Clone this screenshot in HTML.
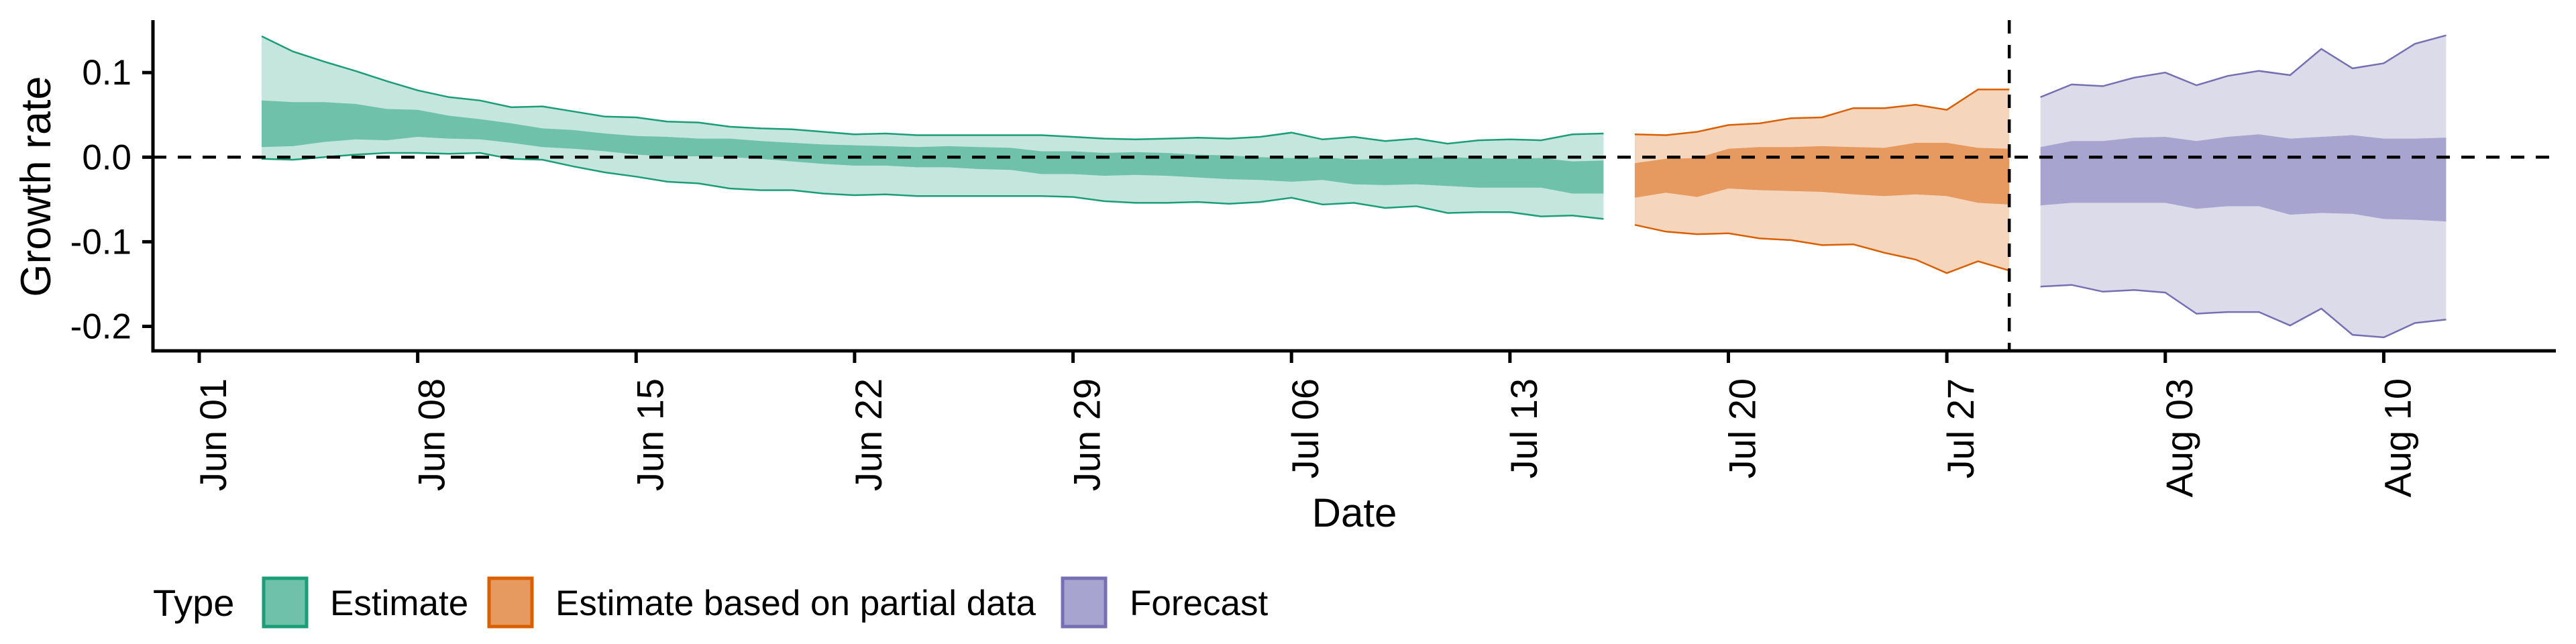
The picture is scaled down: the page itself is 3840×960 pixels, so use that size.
<!DOCTYPE html>
<html><head><meta charset="utf-8"><style>
html,body{margin:0;padding:0;background:#fff;}
svg{display:block;font-family:"Liberation Sans",sans-serif;}
</style></head><body>
<svg id="chart" width="3840" height="960" viewBox="0 0 3840 960" xmlns="http://www.w3.org/2000/svg">
<g id="bands"></g>
<g id="axes"></g>
<text x="0" y="0" font-size="63" text-anchor="middle" transform="translate(75,278) rotate(-90)">Growth rate</text>
<text x="2019" y="785" font-size="60" text-anchor="middle">Date</text>
<g>
<text x="228" y="918" font-size="56">Type</text>
<rect x="393" y="862" width="64" height="72" fill="#6fc2a9" stroke="#1b9e77" stroke-width="5"/>
<text x="492" y="917" font-size="53">Estimate</text>
<rect x="729" y="862" width="64" height="72" fill="#e69a5f" stroke="#d95f02" stroke-width="5"/>
<text x="828" y="917" font-size="53">Estimate based on partial data</text>
<rect x="1584" y="862" width="64" height="72" fill="#a7a5cf" stroke="#7570b3" stroke-width="5"/>
<text x="1684" y="917" font-size="53">Forecast</text>
</g>
</svg>
<script>
// day index 0 = Jun 01
const estDays0 = 2;
const estOuterUpper = [0.143,0.125,0.113,0.102,0.090,0.079,0.071,0.067,0.059,0.060,0.054,0.048,0.047,0.042,0.041,0.036,0.034,0.033,0.030,0.027,0.028,0.026,0.026,0.026,0.026,0.026,0.024,0.022,0.021,0.022,0.023,0.022,0.024,0.029,0.021,0.024,0.019,0.022,0.016,0.020,0.021,0.020,0.027,0.028];
const estInnerUpper = [0.067,0.065,0.065,0.063,0.057,0.056,0.049,0.045,0.040,0.034,0.032,0.028,0.025,0.024,0.022,0.022,0.019,0.017,0.015,0.014,0.013,0.012,0.013,0.012,0.011,0.007,0.007,0.005,0.006,0.005,0.003,0.002,0.000,-0.001,0.000,-0.003,-0.002,-0.001,0.000,-0.001,-0.002,-0.001,-0.005,-0.004];
const estInnerLower = [0.012,0.013,0.018,0.021,0.020,0.024,0.022,0.021,0.017,0.012,0.010,0.007,0.003,0.001,0.001,0.000,-0.002,-0.005,-0.008,-0.010,-0.010,-0.012,-0.012,-0.014,-0.015,-0.020,-0.020,-0.022,-0.021,-0.022,-0.024,-0.026,-0.027,-0.029,-0.027,-0.032,-0.033,-0.032,-0.034,-0.036,-0.036,-0.036,-0.043,-0.043];
const estOuterLower = [-0.002,-0.003,0.000,0.003,0.005,0.005,0.004,0.005,-0.002,-0.003,-0.011,-0.018,-0.023,-0.029,-0.031,-0.037,-0.039,-0.039,-0.043,-0.045,-0.044,-0.046,-0.046,-0.046,-0.046,-0.046,-0.047,-0.052,-0.054,-0.054,-0.053,-0.055,-0.053,-0.048,-0.056,-0.054,-0.060,-0.058,-0.066,-0.065,-0.065,-0.070,-0.069,-0.073];
const partDays0 = 46;
const partOuterUpper = [0.027,0.026,0.030,0.038,0.040,0.046,0.047,0.058,0.058,0.062,0.056,0.080,0.080];
const partInnerUpper = [-0.007,-0.002,-0.001,0.010,0.012,0.012,0.013,0.012,0.011,0.017,0.017,0.011,0.010];
const partInnerLower = [-0.048,-0.042,-0.047,-0.037,-0.039,-0.040,-0.041,-0.044,-0.046,-0.044,-0.046,-0.054,-0.056];
const partOuterLower = [-0.080,-0.088,-0.091,-0.090,-0.096,-0.098,-0.104,-0.103,-0.113,-0.121,-0.137,-0.123,-0.134];
const fcDays0 = 59;
const fcOuterUpper = [0.071,0.086,0.084,0.094,0.100,0.085,0.096,0.102,0.097,0.128,0.105,0.111,0.134,0.144];
const fcInnerUpper = [0.012,0.019,0.019,0.023,0.024,0.019,0.024,0.027,0.022,0.024,0.026,0.022,0.022,0.023];
const fcInnerLower = [-0.057,-0.054,-0.054,-0.054,-0.054,-0.061,-0.058,-0.058,-0.068,-0.066,-0.067,-0.073,-0.074,-0.076];
const fcOuterLower = [-0.153,-0.151,-0.159,-0.157,-0.160,-0.185,-0.183,-0.183,-0.199,-0.179,-0.210,-0.213,-0.196,-0.192];
const forecastStartDay = 58;
const xTickDays = [0,7,14,21,28,35,42,49,56,63,70];
const xTickLabels = ["Jun 01","Jun 08","Jun 15","Jun 22","Jun 29","Jul 06","Jul 13","Jul 20","Jul 27","Aug 03","Aug 10"];
const yTickValues = [0.1,0.0,-0.1,-0.2];
const yTickLabels = ["0.1","0.0","-0.1","-0.2"];

const NS = "http://www.w3.org/2000/svg";
const X0 = 228, X1 = 3810, Y0 = 30, YB = 523;
function xs(d){ return 297 + d*46.52; }
function ys(v){ return 234.3 - v*1261; }
function mk(tag, attrs, parent){ const e=document.createElementNS(NS,tag); for(const k in attrs) e.setAttribute(k,attrs[k]); parent.appendChild(e); return e; }
const bands = document.getElementById('bands');
const axes = document.getElementById('axes');

function band(d0, up, lo, fill, name){
  let pts=[];
  for(let i=0;i<up.length;i++) pts.push(xs(d0+i).toFixed(1)+","+ys(up[i]).toFixed(1));
  for(let i=lo.length-1;i>=0;i--) pts.push(xs(d0+i).toFixed(1)+","+ys(lo[i]).toFixed(1));
  const p = mk('polygon',{points:pts.join(' '),fill:fill},bands);
  
  
}
function line(d0, vals, col, name){
  const pts = vals.map((v,i)=>xs(d0+i).toFixed(1)+","+ys(v).toFixed(1)).join(' ');
  const p = mk('polyline',{points:pts,fill:'none',stroke:col,'stroke-width':2.5},bands);
  
  
}
const series = [
  [estDays0, estOuterUpper, estInnerUpper, estInnerLower, estOuterLower, '#c4e6dc', '#6fc2a9', '#1b9e77', 'estimate'],
  [partDays0, partOuterUpper, partInnerUpper, partInnerLower, partOuterLower, '#f5d6bc', '#e69a5f', '#d95f02', 'partial'],
  [fcDays0, fcOuterUpper, fcInnerUpper, fcInnerLower, fcOuterLower, '#dcdbea', '#a7a5cf', '#7570b3', 'forecast']
];
series.forEach(s=>{
  band(s[0], s[1], s[4], s[5], s[8]+'-outer-band');
  band(s[0], s[2], s[3], s[6], s[8]+'-inner-band');
  line(s[0], s[1], s[7], s[8]+'-upper-line');
  line(s[0], s[4], s[7], s[8]+'-lower-line');
});

const zl = mk('line',{x1:X0,x2:X1,y1:ys(0),y2:ys(0),stroke:'#000','stroke-width':4.5,'stroke-dasharray':'20 17'},axes);


const vl = mk('line',{x1:xs(forecastStartDay),x2:xs(forecastStartDay),y1:Y0,y2:YB,stroke:'#000','stroke-width':4.5,'stroke-dasharray':'20 17'},axes);



const ya = mk('line',{x1:X0,x2:X0,y1:Y0,y2:YB+2.5,stroke:'#000','stroke-width':5},axes);


const xa = mk('line',{x1:X0-2.5,x2:X1,y1:YB,y2:YB,stroke:'#000','stroke-width':5},axes);



yTickValues.forEach((v,i)=>{
  const t = mk('line',{x1:X0-16,x2:X0,y1:ys(v),y2:ys(v),stroke:'#000','stroke-width':5},axes);
  
  
  const l = mk('text',{x:196,y:ys(v)+18,'font-size':53,'text-anchor':'end'},axes);
  l.textContent = yTickLabels[i];
  
  
});
xTickDays.forEach((d,i)=>{
  const x = xs(d);
  const t = mk('line',{x1:x,x2:x,y1:YB,y2:YB+18,stroke:'#000','stroke-width':5},axes);
  
  
  const l = mk('text',{x:0,y:0,'font-size':56,'text-anchor':'end',transform:`translate(${(x+40).toFixed(1)},564) rotate(-90)`},axes);
  l.textContent = xTickLabels[i];
  
  
});
</script>
</body></html>
